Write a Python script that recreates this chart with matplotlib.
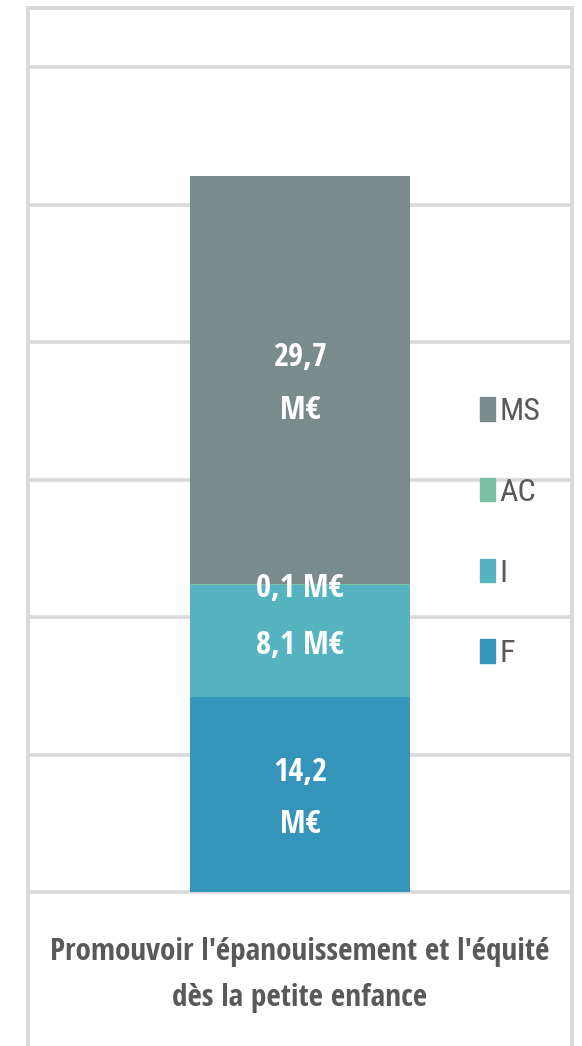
import matplotlib
matplotlib.use("Agg")
import matplotlib.pyplot as plt
from matplotlib.patches import Patch

# data
category = "Promouvoir l'épanouissement et l'équité\ndès la petite enfance"
series = ["F", "I", "AC", "MS"]
values = [14.2, 8.1, 0.1, 29.7]
labels = ["14,2\nM€", "8,1 M€", "0,1 M€", "29,7\nM€"]
colors = ["#3494BA", "#56B4C0", "#79C1A4", "#7A8B8B"]
yticks = [0, 10, 20, 30, 40, 50, 60]

bold_font = ["Open Sans Condensed", "DejaVu Sans"]
thin_font = ["Roboto Condensed", "DejaVu Sans"]

W, H = 582, 1046
fig = plt.figure(figsize=(W / 100, H / 100), dpi=100)
ax = fig.add_axes([28 / W, 0, (572 - 28) / W, 1 - 8 / H])

px_per_unit = 13.75
ax.set_ylim(-(H - 892) / px_per_unit, (892 - 8) / px_per_unit)
ax.set_xlim(-0.5, 0.5)

grid_col = "#d9d9d9"
for y in yticks:
    ax.axhline(y, color=grid_col, lw=2.6, zorder=1)

bottom = 0
for v, lab, c in zip(values, labels, colors):
    ax.bar(0, v, width=0.403, bottom=bottom, color=c, zorder=2)
    ax.text(0, bottom + v / 2 - 0.3, lab, ha="center", va="center", color="white",
            fontsize=23.5, family=bold_font, fontweight="bold", linespacing=1.78, zorder=3)
    bottom += v

ax.text(0, (892 - 975) / px_per_unit, category,
        ha="center", va="center", color="#595959", fontsize=22.5,
        family=bold_font, fontweight="bold", linespacing=1.68)

for s in ["left", "right", "top"]:
    ax.spines[s].set_color(grid_col)
    ax.spines[s].set_linewidth(2.8)
ax.spines["bottom"].set_visible(False)
ax.set_xticks([])
ax.set_yticks([])

handles = [Patch(color=c, label=s) for s, c in zip(series, colors)][::-1]
fig.legend(handles=handles, loc="upper left", bbox_to_anchor=(480 / W, 1 - 397 / H),
           frameon=False, prop={"family": thin_font, "size": 23}, labelcolor="#595959",
           borderpad=0, borderaxespad=0, labelspacing=1.62, handlelength=0.48,
           handleheight=0.75, handletextpad=0.12)

fig.savefig("out.png", dpi=100)
